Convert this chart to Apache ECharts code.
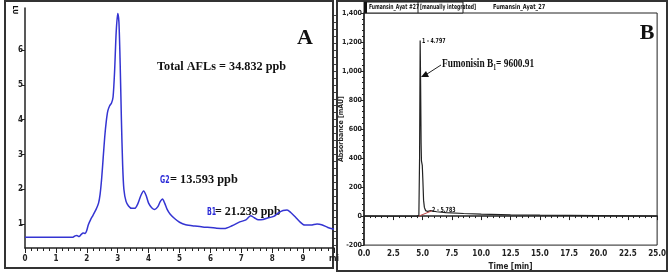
<!DOCTYPE html>
<html>
<head>
<meta charset="utf-8">
<script src="https://cdn.jsdelivr.net/npm/echarts@6/dist/echarts.min.js"></script>
<style>
  html, body { margin: 0; padding: 0; background: #fff; }
  #chart { width: 669px; height: 276px; }
</style>
</head>
<body>
<div id="chart"></div>
<script>
// panel A: fluorescence trace (time in min, signal in LU)
const aTime = [0, 1.0, 1.55, 1.62, 1.68, 1.75, 1.82, 1.88, 1.95, 2.0, 2.05, 2.12, 2.2, 2.3, 2.38, 2.43, 2.48, 2.53, 2.58, 2.63, 2.68, 2.74, 2.8, 2.85, 2.9, 2.95, 3.0, 3.04, 3.08, 3.12, 3.16, 3.2, 3.27, 3.35, 3.45, 3.55, 3.65, 3.75, 3.84, 3.92, 4.0, 4.1, 4.2, 4.3, 4.38, 4.45, 4.52, 4.6, 4.7, 4.85, 5.0, 5.2, 5.5, 5.8, 6.0, 6.2, 6.45, 6.7, 6.95, 7.15, 7.3, 7.42, 7.55, 7.7, 7.85, 8.05, 8.2, 8.35, 8.48, 8.6, 8.75, 8.9, 9.05, 9.25, 9.45, 9.6, 9.8, 10.0];
const aSignal = [0.62, 0.62, 0.62, 0.66, 0.67, 0.64, 0.70, 0.74, 0.73, 0.82, 0.98, 1.12, 1.25, 1.42, 1.6, 1.85, 2.3, 2.9, 3.5, 3.95, 4.25, 4.4, 4.48, 4.65, 5.4, 6.5, 7.05, 6.8, 5.6, 4.0, 2.7, 2.0, 1.65, 1.52, 1.45, 1.45, 1.58, 1.82, 1.95, 1.82, 1.6, 1.47, 1.42, 1.5, 1.65, 1.72, 1.6, 1.42, 1.28, 1.15, 1.05, 0.98, 0.94, 0.91, 0.9, 0.88, 0.87, 0.95, 1.06, 1.12, 1.24, 1.18, 1.12, 1.13, 1.17, 1.22, 1.32, 1.39, 1.4, 1.33, 1.2, 1.06, 0.97, 0.97, 1.0, 0.98, 0.9, 0.85];
const aYTicks = [1, 2, 3, 4, 5, 6];

// panel B: absorbance trace (time in min, mAU)
const bTime = [0, 2, 4.5, 4.68, 4.74, 4.79, 4.83, 4.87, 4.9, 4.97, 5.02, 5.08, 5.15, 5.25, 5.45, 5.7, 5.85, 6.2, 7.0, 8.5, 10, 12.5, 15, 20, 25];
const bAbs = [0, -1, 0, 5, 400, 1210, 900, 500, 380, 350, 250, 110, 60, 38, 32, 38, 36, 30, 24, 18, 14, 9, 6, 3, 0];
// integration baseline drawn by the software
const bBaseTime = [4.68, 5.78];
const bBaseAbs = [0, 36];

const pair = (xs, ys) => xs.map((x, i) => [x, ys[i]]);

const narrow = "'Liberation Sans Narrow', 'DejaVu Sans Condensed', sans-serif";
const serif = "'Liberation Serif', 'Times New Roman', serif";

const axisFont = {
  fontFamily: narrow,
  fontWeight: 'bold',
  fontSize: 8,
  color: '#222'
};

let aMinor = [];
for (let v = 0.4; v < 7.2; v += 0.2) aMinor.push(+v.toFixed(1));

const txt = (x, y, text, font, opt = {}) => ({
  type: 'text',
  x, y,
  scaleX: opt.sx || 1,
  rotation: opt.rot || 0,
  style: {
    text,
    font,
    fill: opt.fill || '#111',
    textAlign: opt.align || 'left',
    textVerticalAlign: 'middle'
  }
});

const chart = echarts.init(document.getElementById('chart'));
chart.setOption({
  animation: false,
  grid: [
    { left: 25, top: 8, right: 335, bottom: 28 },
    { left: 364, top: 13, right: 7, bottom: 28, show: true, borderColor: '#222', borderWidth: 1 }
  ],
  xAxis: [
    {
      gridIndex: 0, type: 'value', min: 0, max: 10, interval: 1,
      axisLine: { lineStyle: { color: '#222', width: 1.5 } },
      axisTick: { length: 5, lineStyle: { color: '#222' } },
      minorTick: { show: true, splitNumber: 5, length: 3, lineStyle: { color: '#222' } },
      splitLine: { show: false },
      axisLabel: Object.assign({ margin: 7, formatter: v => v === 10 ? 'mi' : String(v) }, axisFont)
    },
    {
      gridIndex: 1, type: 'value', min: 0, max: 25, interval: 2.5,
      name: 'Time [min]', nameLocation: 'middle', nameGap: 16,
      nameTextStyle: axisFont,
      axisLine: { lineStyle: { color: '#222', width: 1.5 } },
      axisTick: { length: 4, lineStyle: { color: '#222' } },
      minorTick: { show: true, splitNumber: 5, length: 2, lineStyle: { color: '#222' } },
      splitLine: { show: false },
      axisLabel: Object.assign({ margin: 5, formatter: v => v.toFixed(1) }, axisFont)
    }
  ],
  yAxis: [
    {
      gridIndex: 0, type: 'value', min: 0.31, max: 7.21,
      axisLine: { show: true, lineStyle: { color: '#222', width: 1.5 } },
      axisTick: { show: true, length: 4, customValues: aYTicks, lineStyle: { color: '#222' } },
      splitLine: { show: false },
      axisLabel: Object.assign({ margin: 2, customValues: aYTicks }, axisFont)
    },
    {
      gridIndex: 0, type: 'value', min: 0.31, max: 7.21,
      axisLine: { show: false },
      axisTick: { show: true, length: 2, customValues: aMinor, lineStyle: { color: '#444' } },
      splitLine: { show: false },
      axisLabel: { show: false }
    },
    {
      gridIndex: 1, type: 'value', min: -200, max: 1400, interval: 200,
      name: 'Absorbance [mAU]', nameLocation: 'middle', nameGap: 19,
      nameMoveOverlap: false,
      nameTextStyle: Object.assign({}, axisFont, { fontSize: 7 }),
      axisLine: { show: true, lineStyle: { color: '#222', width: 1.5 } },
      axisTick: { show: true, length: 3, lineStyle: { color: '#222' } },
      minorTick: { show: true, splitNumber: 5, length: 2, lineStyle: { color: '#222' } },
      splitLine: { show: false },
      axisLabel: Object.assign({}, axisFont, { margin: 2, fontSize: 7, formatter: v => v.toLocaleString('en-US') })
    }
  ],
  series: [
    {
      type: 'line', xAxisIndex: 0, yAxisIndex: 0,
      data: pair(aTime, aSignal),
      showSymbol: false, smooth: 0.25,
      lineStyle: { color: '#3434d2', width: 1.5 }
    },
    {
      type: 'line', xAxisIndex: 1, yAxisIndex: 2,
      data: pair(bTime, bAbs),
      showSymbol: false,
      lineStyle: { color: '#222', width: 1.2 }
    },
    {
      type: 'line', xAxisIndex: 1, yAxisIndex: 2,
      data: pair(bBaseTime, bBaseAbs),
      showSymbol: false,
      lineStyle: { color: '#b44', width: 1 }
    }
  ],
  graphic: [
    // panel frames
    { type: 'rect', shape: { x: 5, y: 1, width: 328, height: 267 }, style: { fill: 'none', stroke: '#333', lineWidth: 2 } },
    { type: 'rect', shape: { x: 337, y: 1, width: 330, height: 270 }, style: { fill: 'none', stroke: '#333', lineWidth: 2 } },

    // panel A texts
    txt(305, 38, 'A', 'bold 22px ' + serif, { align: 'center' }),
    txt(157, 67, 'Total AFLs = 34.832 ppb', 'bold 13px ' + serif, { sx: 0.94 }),
    txt(160, 180, 'G2', 'bold 10px ' + narrow, { fill: '#2a2ad8', sx: 0.7 }),
    txt(170, 180, '= 13.593 ppb', 'bold 13px ' + serif, { sx: 0.95 }),
    txt(207, 212, 'B1', 'bold 10px ' + narrow, { fill: '#2a2ad8', sx: 0.7 }),
    txt(215, 212, '= 21.239 ppb', 'bold 13px ' + serif, { sx: 0.92 }),
    txt(15, 10, 'LU', 'bold 7px ' + narrow, { rot: -Math.PI / 2, align: 'center' }),

    // panel B header
    { type: 'rect', shape: { x: 364, y: 2, width: 99, height: 11 }, style: { fill: '#fff', stroke: '#222', lineWidth: 1 } },
    { type: 'rect', shape: { x: 364, y: 2, width: 3, height: 11 }, style: { fill: '#111' } },
    { type: 'line', shape: { x1: 418, y1: 2, x2: 418, y2: 13 }, style: { stroke: '#222', lineWidth: 1 } },
    txt(369, 7.5, 'Fumansin_Ayat #27', 'bold 7px ' + narrow, { sx: 0.72 }),
    txt(420, 7.5, '[manually integrated]', 'bold 7px ' + narrow, { sx: 0.72 }),
    txt(493, 7.5, 'Fumansin_Ayat_27', 'bold 7px ' + narrow, { sx: 0.8 }),

    // panel B texts
    txt(647, 33, 'B', 'bold 22px ' + serif, { align: 'center' }),
    txt(422, 41, '1 - 4.797', 'bold 7px ' + narrow, { sx: 0.75 }),
    txt(432, 210, '2 - 5.783', 'bold 7px ' + narrow, { sx: 0.75 }),
    { type: 'line', shape: { x1: 441, y1: 65, x2: 427, y2: 74 }, style: { stroke: '#222', lineWidth: 1 } },
    { type: 'polygon', shape: { points: [[421, 77], [426, 71], [429, 77]] }, style: { fill: '#111' } },
    {
      type: 'text', x: 442, y: 64, scaleX: 0.72,
      style: {
        text: '{a|Fumonisin B}{s|1}{a|= 9600.91}',
        textVerticalAlign: 'middle',
        rich: {
          a: { font: 'bold 13px ' + serif, fill: '#111', lineHeight: 16, verticalAlign: 'middle' },
          s: { font: 'bold 8px ' + serif, fill: '#111', lineHeight: 16, verticalAlign: 'bottom', padding: [6, 0, 0, 0] }
        }
      }
    }
  ]
});
</script>
</body>
</html>
